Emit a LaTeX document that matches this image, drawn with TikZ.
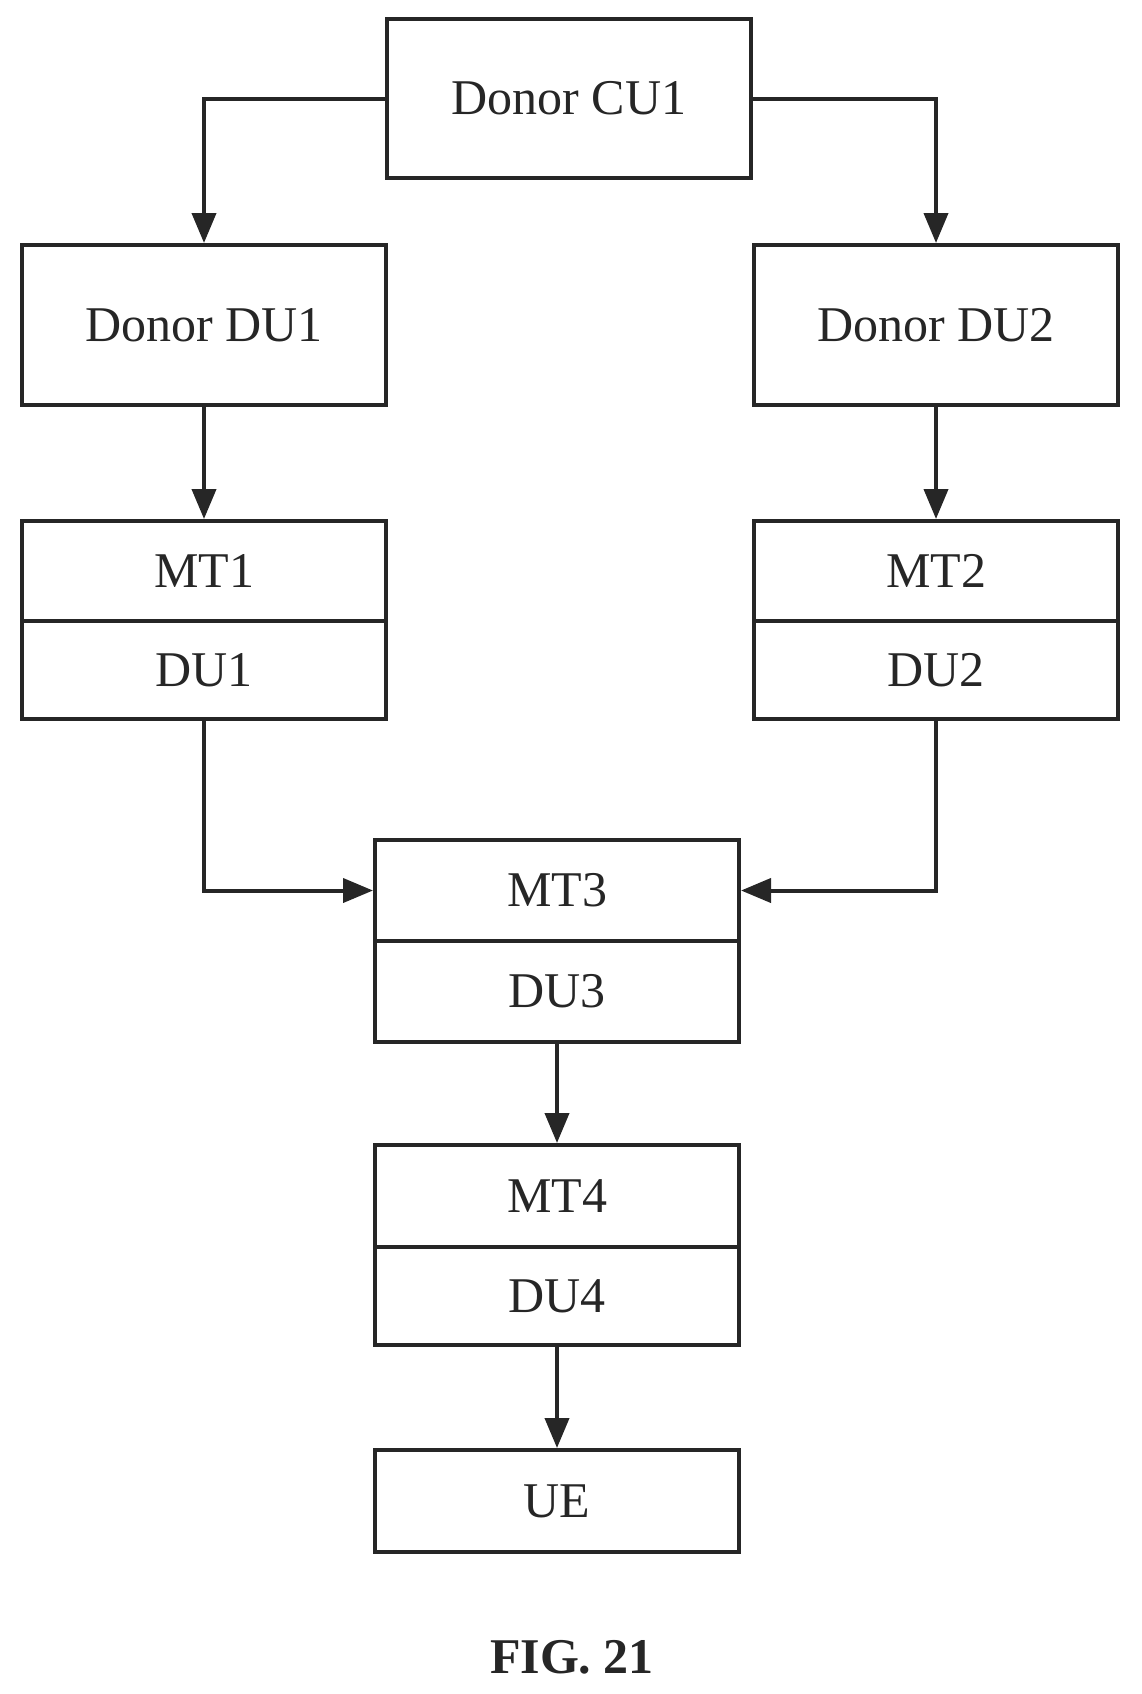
\documentclass[tikz,border=0pt]{standalone}
\usepackage{fontspec}
\setmainfont{Liberation Serif}
\usetikzlibrary{arrows.meta}
\tikzset{
	box/.style={draw, line width=4pt, minimum width=364pt, inner sep=0pt, font=\fontsize{50}{50}\selectfont},
	link/.style={line width=4pt, -{Triangle[length=30pt,width=24pt]}}
}
\begin{document}
\begin{tikzpicture}[x=1pt,y=-1pt, color=black!85]
	\useasboundingbox (0,0) rectangle (1141,1694);
	\node[box, minimum height=159pt] (cu1) at (569,98.5) {Donor CU1};
	\node[box, minimum height=160pt] (ddu1) at (204,325) {Donor DU1};
	\node[box, minimum height=160pt] (ddu2) at (936,325) {Donor DU2};
	\node[box, minimum height=100pt] (mt1) at (204,571) {MT1};
	\node[box, minimum height=98pt] (du1) at (204,670) {DU1};
	\node[box, minimum height=100pt] (mt2) at (936,571) {MT2};
	\node[box, minimum height=98pt] (du2) at (936,670) {DU2};
	\node[box, minimum height=101pt] (mt3) at (557,890.5) {MT3};
	\node[box, minimum height=101pt] (du3) at (557,991.5) {DU3};
	\node[box, minimum height=102pt] (mt4) at (557,1196) {MT4};
	\node[box, minimum height=98pt] (du4) at (557,1296) {DU4};
	\node[box, minimum height=102pt] (ue) at (557,1501) {UE};
	\node[font=\bfseries\fontsize{50}{50}\selectfont] (fig) at (572,1657) {FIG. 21};
	\draw[link] (cu1.west) -| (ddu1.north);
	\draw[link] (cu1.east) -| (ddu2.north);
	\draw[link] (ddu1) -- (mt1);
	\draw[link] (ddu2) -- (mt2);
	\draw[link] (du1.south) |- (mt3.west);
	\draw[link] (du2.south) |- (mt3.east);
	\draw[link] (du3) -- (mt4);
	\draw[link] (du4) -- (ue);
\end{tikzpicture}
\end{document}
